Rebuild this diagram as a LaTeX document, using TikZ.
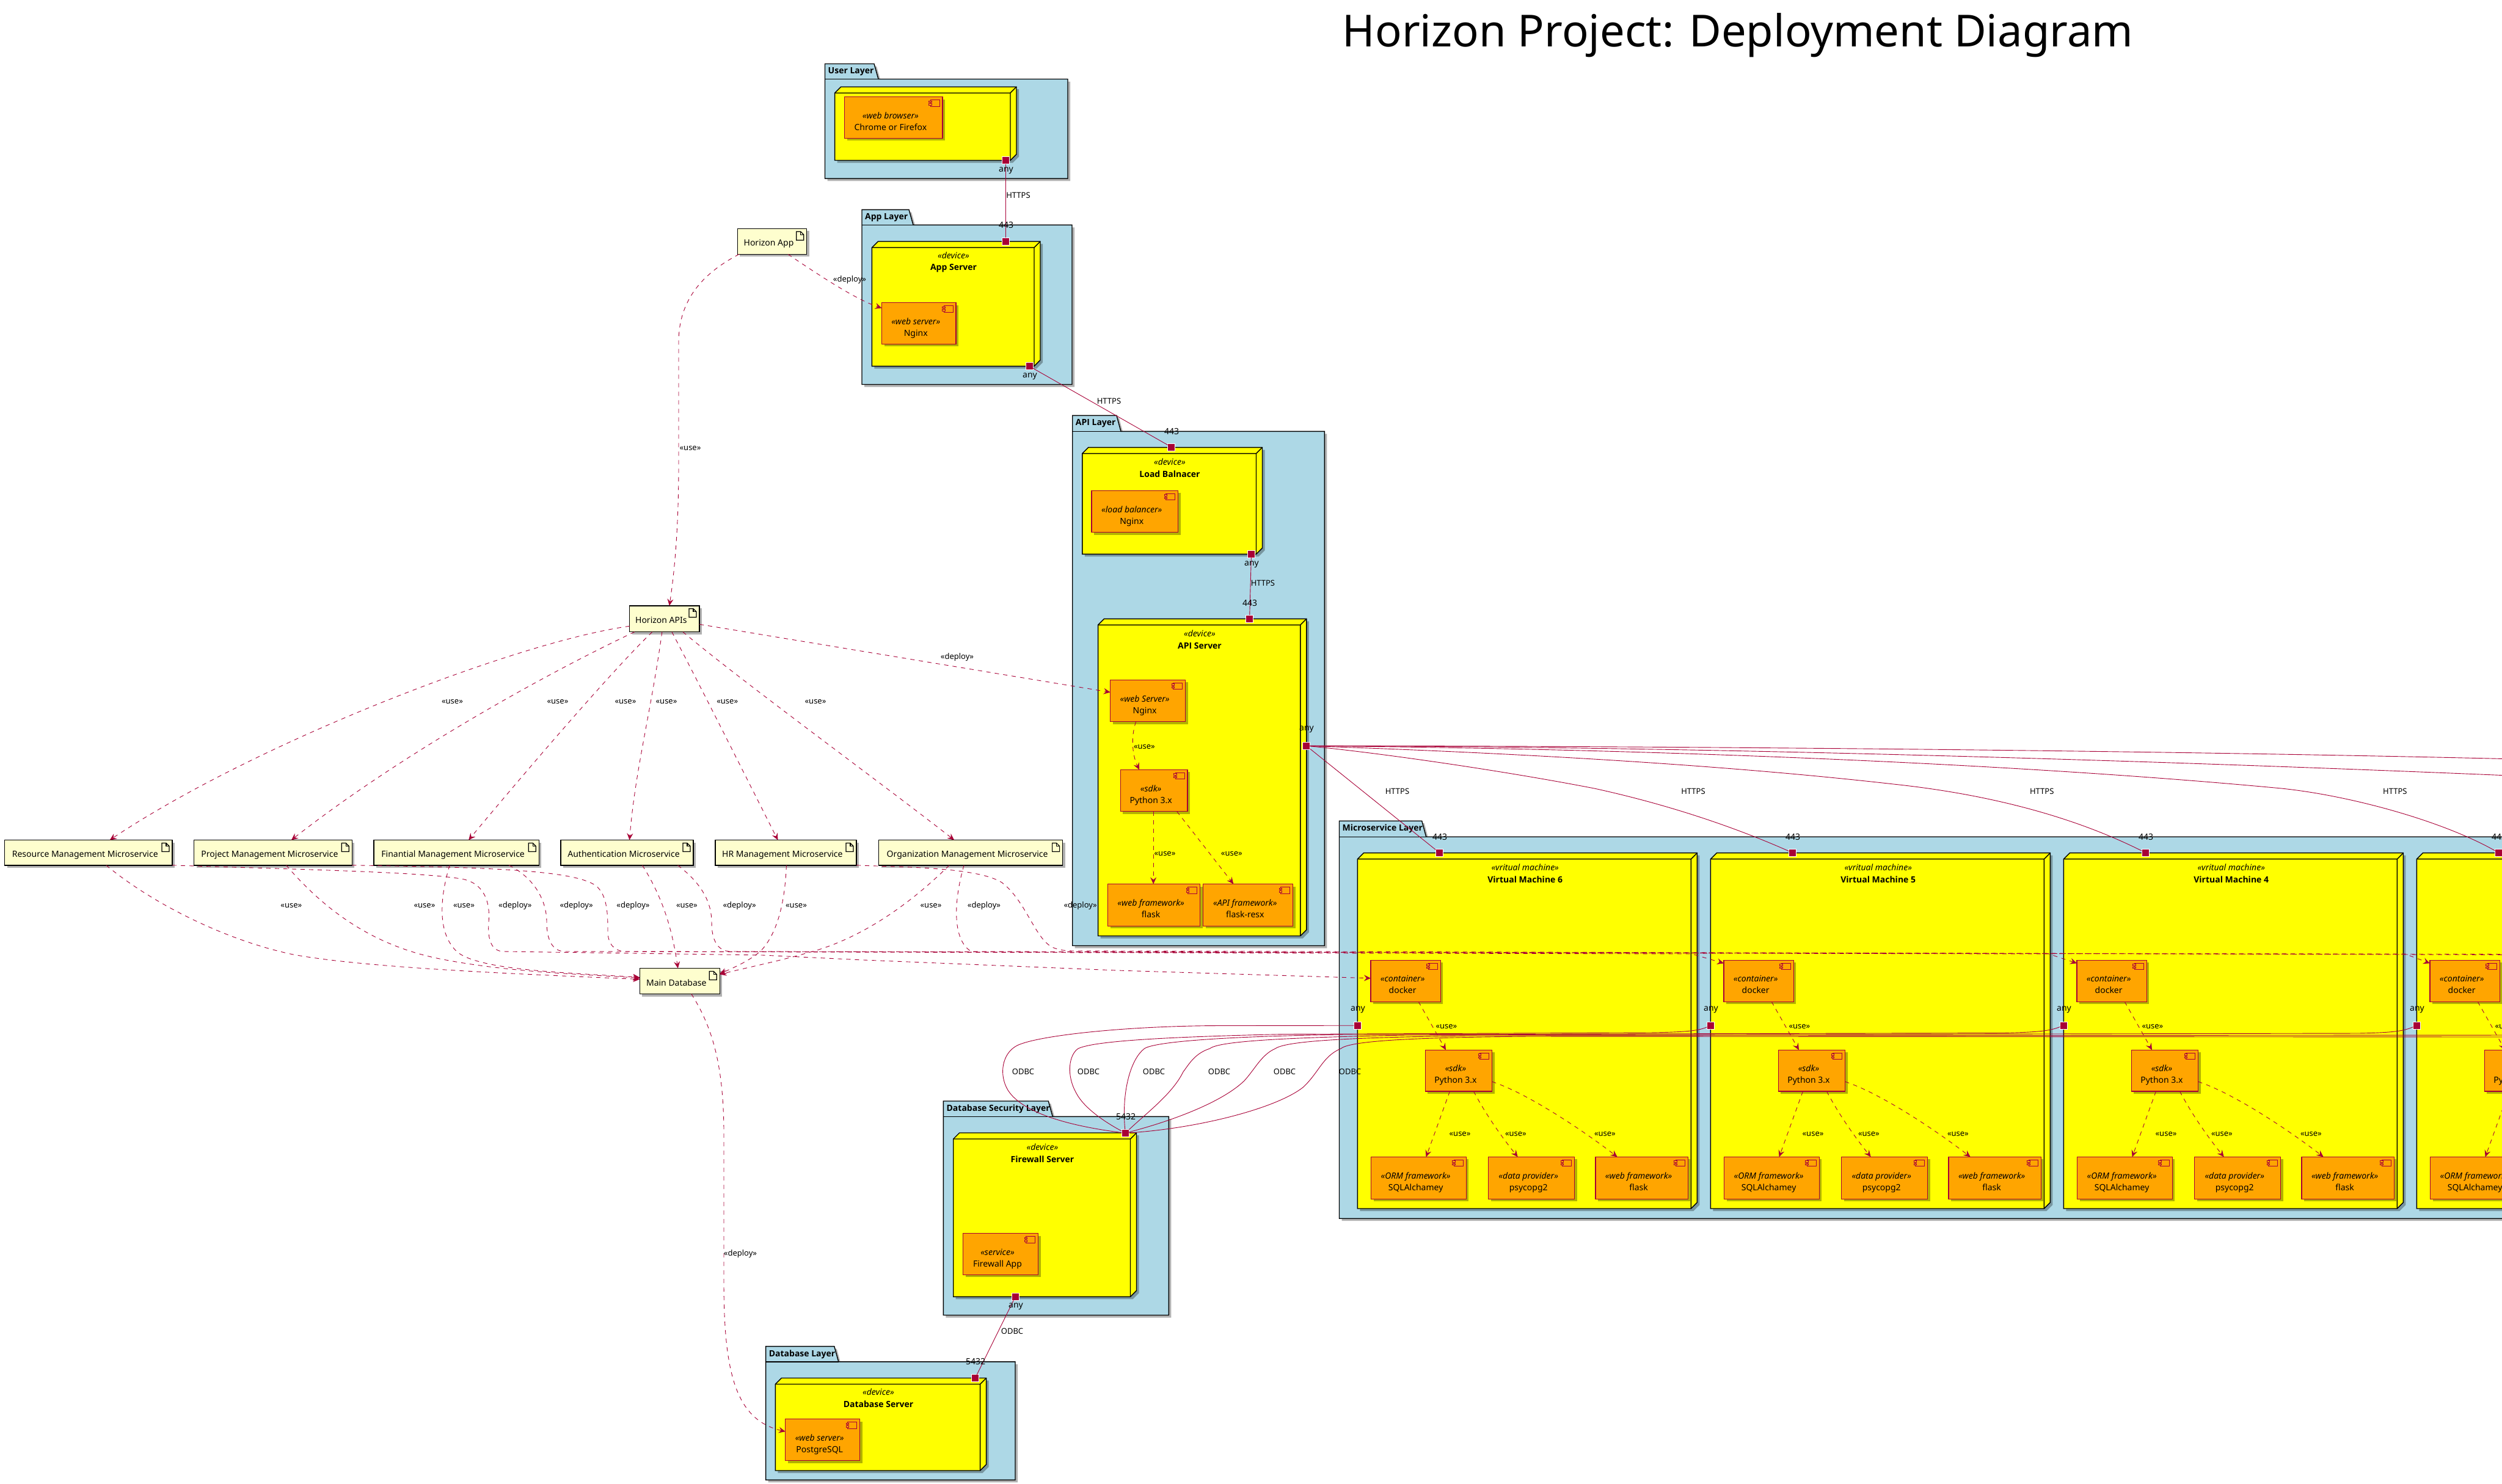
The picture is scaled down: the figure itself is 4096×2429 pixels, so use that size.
\documentclass[tikz,border=0pt]{standalone}
\usepackage{fontspec}
\setmainfont{Noto Sans}
\newfontfamily\strongface{Open Sans}
\usetikzlibrary{calc,shadows,arrows.meta}
\definecolor{wire}{HTML}{A80036}
\definecolor{layerfill}{HTML}{ADD8E6}
\definecolor{notefill}{HTML}{FEFECE}
\definecolor{compfill}{HTML}{FFA500}
\definecolor{devfill}{HTML}{FFFF00}

\tikzset{
softshadow/.style={drop shadow={shadow xshift=4pt,shadow yshift=-4pt,fill=black,opacity=.3}},
layerbox/.style={draw=black,line width=1.4pt,fill=layerfill,softshadow,line join=miter},
devbox/.style={draw=black,line width=1.4pt,fill=devfill,softshadow},
devline/.style={draw=black,line width=1.4pt},
layertitle/.style={anchor=west,inner sep=0pt,font=\fontsize{14}{19}\selectfont\strongface\bfseries},
devtitle/.style={inner sep=0pt,align=center,font=\fontsize{14}{19.5}\selectfont},
compbox/.style={
	draw=wire,line width=1.1pt,fill=compfill,softshadow,
	anchor=north west,inner sep=0pt,outer sep=0pt,font=\fontsize{14}{19}\selectfont,
	path picture={
		\draw[wire,line width=.9pt] ([shift={(-20pt,-5pt)}]path picture bounding box.north east) rectangle ([shift={(-5pt,-15.5pt)}]path picture bounding box.north east);
		\draw[wire,line width=.9pt,fill=compfill] ([shift={(-22.5pt,-6.5pt)}]path picture bounding box.north east) rectangle ([shift={(-18pt,-9pt)}]path picture bounding box.north east);
		\draw[wire,line width=.9pt,fill=compfill] ([shift={(-22.5pt,-11pt)}]path picture bounding box.north east) rectangle ([shift={(-18pt,-13.5pt)}]path picture bounding box.north east);
	}
},
notebox/.style={
	draw=black,line width=1.4pt,fill=notefill,softshadow,
	anchor=north west,inner sep=0pt,outer sep=0pt,text height=15pt,text depth=0pt,font=\fontsize{14}{19}\selectfont,
	path picture={
		\draw[black,line width=1.2pt,line join=miter] ([shift={(-17pt,-5pt)}]path picture bounding box.north east) -- ++(0pt,-14pt) -- ++(12pt,0pt) -- ++(0pt,9pt) -- ++(-5pt,5pt) -- cycle;
		\draw[black,line width=1.2pt] ([shift={(-10pt,-5pt)}]path picture bounding box.north east) -- ++(0pt,-5pt) -- ++(5pt,0pt);
	}
},
portbox/.style={draw=white,line width=.9pt,fill=wire,minimum size=12pt,inner sep=0pt,outer sep=0pt},
portlabel/.style={inner sep=0pt,font=\fontsize{14}{19}\selectfont},
edgelabel/.style={inner sep=0pt,font=\fontsize{13}{17}\selectfont},
linkwire/.style={draw=wire,line width=.9pt},
usewire/.style={draw=wire,line width=.9pt,dash pattern=on 7pt off 7pt,-{Stealth[length=11pt,width=10pt,inset=4pt]}},
}

\newcommand\comptext[2]{\begin{tabular}[c]{@{}c@{}}\rule{0pt}{28pt}\textit{«#1»}\\#2\end{tabular}\kern10pt}
\newcommand\compnode[7]{\node[compbox,minimum width=\the\dimexpr#4pt-#2pt\relax,minimum height=\the\dimexpr#5pt-#3pt\relax] (#1) at (#2,#3) {\comptext{#6}{#7}};}
\newcommand\notenode[6]{\node[notebox,minimum width=\the\dimexpr#4pt-#2pt\relax,minimum height=\the\dimexpr#5pt-#3pt\relax] (#1) at (#2,#3) {#6\kern11pt};}
% x1, tab top, tab right, body top, x2, y2, title
\newcommand\layershape[7]{
	\draw[layerbox] (#1,#4) -- (#1,#2) -- (#3,#2) -- (#3+7,#4) -- (#5,#4) -- (#5,#6) -- (#1,#6) -- cycle;
	\draw[devline] (#1,#4) -- (#3+7,#4);
	\node[layertitle] (#7 title) at (#1+5,#2+13) {#7 Layer};
}
\newcommand\boxshape[4]{
	\draw[devbox] (#1,#2) -- ++(10,-10) -- (#3+10,#2-10) -- (#3+10,#4-10) -- (#3,#4) -- (#1,#4) -- cycle;
	\draw[devline] (#1,#2) -- (#3,#2) -- (#3,#4) (#3,#2) -- ++(10,-10);
}
\newcommand\devtext[5]{\node[devtitle] (#1) at (#2,#3) {\textit{«#4»}\\{\strongface\bfseries #5}};}

\begin{document}
\begin{tikzpicture}[x=1pt,y=-1pt]
\useasboundingbox (0,0) rectangle (4096,2429);
\clip (0,0) rectangle (4096,2429);

\node[anchor=base,inner sep=0pt,font=\fontsize{72.3}{80}\selectfont] (title) at (2845,76.7) {Horizon Project: Deployment Diagram};

\layershape{1350.5}{104.5}{1431}{129.5}{1748}{292.4}{User}
\layershape{1411}{343.3}{1488}{368.3}{1755}{629.5}{App}
\layershape{1755.7}{680.4}{1828}{706.4}{2168.4}{1548.5}{API}
\layershape{2192.5}{1344.2}{2327.7}{1370.2}{4120}{1995.2}{Microservice}
\layershape{1544.4}{1803}{1716.3}{1828.4}{1913.3}{2153.5}{Database Security}
\layershape{1253.6}{2204.6}{1365.8}{2229.8}{1662}{2423.3}{Database}

\boxshape{1366.6}{152.2}{1654}{262.5}
\compnode{browser}{1382.7}{158.5}{1543}{226.3}{web browser}{Chrome or Firefox}

\boxshape{1427.4}{405.4}{1693}{599.6}
\devtext{appdev}{1561}{429.4}{device}{App Server}
\compnode{appngx}{1443.5}{495.5}{1565}{563.4}{web server}{Nginx}

\boxshape{1771.8}{742.6}{2056.5}{907.3}
\devtext{lbdev}{1915}{766.3}{device}{Load Balnacer}
\compnode{lbngx}{1787}{803.4}{1928.5}{871.7}{load balancer}{Nginx}

\boxshape{1797.6}{1023.3}{2128.8}{1532.5}
\devtext{apidev}{1964}{1047.3}{device}{API Server}
\compnode{apingx}{1817.7}{1113.4}{1940.5}{1181.7}{web Server}{Nginx}
\compnode{apisdk}{1834.3}{1260.4}{1944}{1328.7}{sdk}{Python 3.x}
\compnode{apiflask}{1813.7}{1447.5}{1964.6}{1516.4}{web framework}{flask}
\compnode{apiresx}{1969.8}{1447.5}{2116.8}{1516.4}{API framework}{flask-resx}

\foreach \vm/\off in {6/0,5/578,4/1156}
{
	\begin{scope}[xshift=\off pt]
	\boxshape{2222.4}{1406.6}{2768.4}{1979}
	\devtext{vmdev\vm}{2496.7}{1430.3}{vritual machine}{Virtual Machine \vm}
	\compnode{docker\vm}{2244}{1572.4}{2358.3}{1640.2}{container}{docker}
	\compnode{sdk\vm}{2333.4}{1719.3}{2442.5}{1787}{sdk}{Python 3.x}
	\compnode{orm\vm}{2244.8}{1894.4}{2400.4}{1963.2}{ORM framework}{SQLAlchamey}
	\compnode{pg\vm}{2436.7}{1894.4}{2577.7}{1963.2}{data provider}{psycopg2}
	\compnode{fw\vm}{2612}{1894.4}{2763.3}{1963.2}{web framework}{flask}
	\draw[usewire] ([xshift=21pt]docker\vm.south) -- ([xshift=-21pt]sdk\vm.north);
	\draw[usewire] ([xshift=-14.5pt]sdk\vm.south) -- ([xshift=12pt]orm\vm.north);
	\draw[usewire] ([xshift=24.5pt]sdk\vm.south) .. controls (2435,1830) and (2465,1870) .. ([xshift=-22.5pt]pg\vm.north);
	\draw[usewire] ([yshift=-18pt]sdk\vm.east) .. controls (2500,1790) and (2590,1850) .. ([xshift=-40pt]fw\vm.north);
	\node[portbox] (vmin\vm) at (2356.4,1396.3) {};
	\node[portlabel] (vminlb\vm) at (2357,1370) {443};
	\node[portbox] (vmout\vm) at (2222.4,1679.2) {};
	\node[portlabel] (vmoutlb\vm) at (2223,1653.2) {any};
	\node[edgelabel] (vmuse\vm) at (2367.9,1680.8) {«use»};
	\node[edgelabel] (vmorm\vm) at (2390,1857) {«use»};
	\node[edgelabel] (vmpg\vm) at (2481.4,1857) {«use»};
	\node[edgelabel] (vmfw\vm) at (2627.4,1857) {«use»};
	\end{scope}
}
% the last machine runs off the right edge
\begin{scope}[xshift=1734pt]
	\boxshape{2222.4}{1406.6}{2768.4}{1979}
	\compnode{docker3}{2244}{1572.4}{2358.3}{1640.2}{container}{docker}
	\compnode{sdk3}{2333.4}{1719.3}{2442.5}{1787}{sdk}{Python 3.x}
	\compnode{orm3}{2244.8}{1894.4}{2400.4}{1963.2}{ORM framework}{SQLAlchamey}
	\draw[usewire] ([xshift=21pt]docker3.south) -- ([xshift=-21pt]sdk3.north);
	\draw[usewire] ([xshift=-14.5pt]sdk3.south) -- ([xshift=12pt]orm3.north);
	\node[portbox] (vmin3) at (2356.4,1396.3) {};
	\node[portlabel] (vminlb3) at (2357,1370) {443};
	\node[portbox] (vmout3) at (2222.4,1679.2) {};
	\node[portlabel] (vmoutlb3) at (2223,1653.2) {any};
	\node[edgelabel] (vmuse3) at (2367.9,1680.8) {«use»};
\end{scope}

\boxshape{1560.7}{1865}{1850.5}{2123.3}
\devtext{fwdev}{1706.5}{1888}{device}{Firewall Server}
\compnode{fwapp}{1576.5}{2019.5}{1699.5}{2087.4}{service}{Firewall App}

\boxshape{1269.4}{2266.5}{1604.6}{2408}
\devtext{dbdev}{1438}{2289.3}{device}{Database Server}
\compnode{pgsql}{1285.7}{2323.7}{1407.7}{2391.6}{web server}{PostgreSQL}

\notenode{happ}{1207.3}{374.3}{1320.7}{416.3}{Horizon App}
\notenode{hapis}{1030.7}{991.8}{1145}{1034.7}{Horizon APIs}
\notenode{res}{7.5}{1375.5}{282}{1416.8}{Resource Management Microservice}
\notenode{proj}{317.6}{1375.5}{576.3}{1416.8}{Project Management Microservice}
\notenode{fin}{612}{1375.5}{882.3}{1416.8}{Finantial Management Microservice}
\notenode{auth}{918}{1375.5}{1135}{1416.8}{Authentication Microservice}
\notenode{hr}{1170.8}{1375.5}{1402}{1416.8}{HR Management Microservice}
\notenode{org}{1438.6}{1375.5}{1739.6}{1416.8}{Organization Management Microservice}
\notenode{db}{1047.3}{1585.5}{1178.3}{1627.5}{Main Database}

\node[portbox] (userout) at (1646,262.5) {};
\node[portbox] (appin) at (1646,395) {};
\node[portbox] (appout) at (1685,599.6) {};
\node[portbox] (lbin) at (1917.6,732) {};
\node[portbox] (lbout) at (2048.5,907.3) {};
\node[portbox] (apiin) at (2045.6,1013) {};
\node[portbox] (apiout) at (2138.6,1221.3) {};
\node[portbox] (fwin) at (1842.3,1855.3) {};
\node[portbox] (fwout) at (1662.2,2123.3) {};
\node[portbox] (dbin) at (1596.4,2256.7) {};
\coordinate (httpstwo) at (4120,1270.5);
\coordinate (httpsone) at (4120,1243);
\coordinate (odbctwo) at (4120,1695);
\coordinate (odbcone) at (4120,1698);
\coordinate (deploytwo) at (4120,1562.5);
\coordinate (deployone) at (4120,1563.5);

\foreach \from/\to in {userout/appin,appout/lbin,lbout/apiin,fwout/dbin,apiout/vmin6}
{
	\draw[linkwire] (\from) -- (\to);
}
\draw[linkwire] (apiout) .. controls (2250,1232) and (2450,1260) .. (2610,1291) .. controls (2720,1315) and (2830,1350) .. (vmin5);
\draw[linkwire] (apiout) .. controls (2450,1232) and (2800,1250) .. (3100,1284) .. controls (3250,1300) and (3390,1335) .. (vmin4);
\draw[linkwire] (apiout) .. controls (2700,1226) and (3300,1250) .. (3735,1291) .. controls (3850,1303) and (4000,1345) .. (vmin3);
\draw[linkwire] (apiout) .. controls (2700,1222) and (3400,1240) .. (httpstwo);
\draw[linkwire] (apiout) .. controls (2700,1221.5) and (3500,1228) .. (httpsone);

\draw[linkwire] (vmout6) -- (2000,1679.5) .. controls (1850,1679.5) and (1700,1695) .. (1665,1712) .. controls (1640,1725) and (1635,1760) .. (1650,1785) .. controls (1675,1825) and (1760,1845) .. (fwin);
\draw[linkwire] (vmout5) .. controls (2780,1688) and (2760,1690) .. (2700,1691) -- (2100,1693.5) .. controls (1900,1698) and (1790,1705) .. (1765,1717) .. controls (1750,1727) and (1745,1760) .. (1762,1790) .. controls (1775,1815) and (1810,1838) .. (fwin);
\draw[linkwire] (vmout4) .. controls (3355,1688) and (3340,1690) .. (3280,1691.5) -- (2200,1694) .. controls (2000,1697) and (1890,1706) .. (1873.5,1717) .. controls (1850,1735) and (1836,1790) .. (fwin);
\draw[linkwire] (vmout3) .. controls (3935,1688) and (3920,1691) .. (3860,1692) -- (2300,1695) .. controls (2100,1699) and (1995,1705) .. (1980.6,1717) .. controls (1955,1725) and (1945,1745) .. (1937,1755) .. controls (1920,1790) and (1880,1820) .. (fwin);
\draw[linkwire] (odbctwo) -- (2400,1696) .. controls (2200,1699) and (2105,1705) .. (2087.8,1717) .. controls (2065,1727) and (2055,1750) .. (2036.7,1770) .. controls (2000,1805) and (1920,1835) .. (fwin);
\draw[linkwire] (odbcone) -- (2500,1697) .. controls (2300,1699) and (2210,1705) .. (2195,1717) .. controls (2165,1730) and (2160,1755) .. (2133.7,1780) .. controls (2090,1815) and (1960,1848) .. (fwin);

\draw[usewire] ([xshift=-54pt]happ.south) .. controls (1165,440) and (1111,480) .. (1111,560) -- (1111,760) .. controls (1111,860) and (1105,930) .. ([xshift=8pt]hapis.north);
\draw[usewire] ([xshift=26pt]happ.south) .. controls (1340,450) and (1400,490) .. ([yshift=25pt]appngx.west);
\draw[usewire] ([yshift=-12pt]hapis.west) .. controls (850,1050) and (420,1215) .. ([xshift=35pt]res.north);
\draw[usewire] ([xshift=-49pt]hapis.south) .. controls (880,1110) and (650,1240) .. ([xshift=30pt]proj.north);
\draw[usewire] ([xshift=-20pt]hapis.south) .. controls (1010,1090) and (880,1240) .. ([xshift=20pt]fin.north);
\draw[usewire] ([xshift=-4pt]hapis.south) .. controls (1065,1170) and (1040,1260) .. ([xshift=4pt]auth.north);
\draw[usewire] ([xshift=12pt]hapis.south) .. controls (1150,1130) and (1220,1270) .. ([xshift=-13pt]hr.north);
\draw[usewire] ([xshift=30pt]hapis.south) .. controls (1220,1120) and (1440,1280) .. ([xshift=-27pt]org.north);
\draw[usewire] ([yshift=-9pt]hapis.east) -- ([yshift=14pt]apingx.west);

\draw[usewire] ([xshift=29pt]res.south) .. controls (250,1480) and (370,1540) .. (480,1563) .. controls (600,1585) and (850,1595) .. ([yshift=3pt]db.west);
\draw[usewire] ([xshift=21.5pt]proj.south) .. controls (540,1500) and (620,1550) .. (720,1570) .. controls (830,1592) and (950,1595) .. ([yshift=5pt]db.west);
\draw[usewire] ([xshift=-11pt]fin.south) .. controls (720,1470) and (715,1530) .. (750,1560) .. controls (790,1590) and (940,1593) .. ([yshift=6pt]db.west);
\draw[usewire] ([xshift=25pt]auth.south) .. controls (1085,1470) and (1100,1520) .. ([xshift=-3pt]db.north);
\draw[usewire] ([xshift=1pt]hr.south) .. controls (1285,1480) and (1272,1525) .. (1250,1552) .. controls (1235,1570) and (1200,1585) .. ([yshift=12pt]db.east);
\draw[usewire] ([xshift=-35pt]org.south) .. controls (1480,1490) and (1400,1540) .. (1323,1560) .. controls (1270,1575) and (1220,1585) .. ([yshift=11pt]db.east);

\draw[usewire] (res.south east) .. controls (500,1424) and (700,1428) .. (760,1440) .. controls (800,1450) and (802,1490) .. (800,1510) .. controls (798,1540) and (805,1558) .. (825,1558) -- (1248,1564) -- (1414.6,1572) -- (1829,1589) -- ([yshift=4.5pt]docker6.west);
\draw[usewire] ([xshift=86pt]fin.south) .. controls (870,1435) and (895,1470) .. (895,1510) .. controls (895,1540) and (905,1558) .. (925,1558) -- (2769.6,1562) -- ([yshift=29pt]docker5.west);
\draw[usewire] (proj.south east) .. controls (800,1420) and (940,1425) .. (975,1450) .. controls (995,1465) and (995,1500) .. (995,1525) .. controls (995,1545) and (1005,1558) .. (1025,1558) -- (3354,1562) -- ([yshift=29pt]docker4.west);
\draw[usewire] ([xshift=83pt]auth.south) .. controls (1140,1440) and (1165,1470) .. (1165,1510) .. controls (1165,1540) and (1175,1557) .. (1195,1558) -- (3938.6,1562.5) -- ([yshift=29pt]docker3.west);
\draw[usewire,-] ([xshift=-11pt]org.south) .. controls (1560,1480) and (1560,1540) .. (1590,1558) -- (deploytwo);
\draw[usewire,-] (hr.south east) .. controls (1480,1420) and (1600,1420) .. (1640,1445) .. controls (1680,1475) and (1695,1540) .. (1725,1552) .. controls (1735,1556) and (1745,1557) .. (1760,1557) -- (deployone);

\draw[usewire] ([xshift=19pt]db.south) .. controls (1165,1680) and (1184,1740) .. (1185,1850) -- (1185,2100) .. controls (1185,2250) and (1205,2325) .. ([yshift=13.6pt]pgsql.west);

\draw[usewire] ([xshift=-19.5pt]apingx.south) .. controls (1850,1210) and (1855,1240) .. ([xshift=-24pt]apisdk.north);
\draw[usewire] ([xshift=-1pt]apisdk.south) -- ([xshift=-1pt]apiflask.north);
\draw[usewire] ([xshift=37.5pt]apisdk.south) -- ([xshift=-24pt]apiresx.north);

\node[portlabel] (useroutlb) at (1647,279) {any};
\node[portlabel] (appinlb) at (1647,368.7) {443};
\node[portlabel] (appoutlb) at (1686,616.5) {any};
\node[portlabel] (lbinlb) at (1918,706) {443};
\node[portlabel] (lboutlb) at (2049,924) {any};
\node[portlabel] (apiinlb) at (2046,987) {443};
\node[portlabel] (apioutlb) at (2139,1194) {any};
\node[portlabel] (fwinlb) at (1843,1828.4) {5432};
\node[portlabel] (fwoutlb) at (1663,2139.5) {any};
\node[portlabel] (dbinlb) at (1597,2229.3) {5432};

\foreach \x/\y [count=\i] in {740.5/1149,913/1149,1024/1149,1091/1149,1190.7/1149,1335/1149,476.8/1483,695/1483,759.5/1483,1124.4/1483,1303.5/1483,1524/1483,1130/734,1873.4/1223,1907/1398,2016.3/1398}
{
	\node[edgelabel] (uselb\i) at (\x,\y) {«use»};
}
\foreach \x/\y [count=\i] in {1391/457.7,1567/1076,843.3/1483,943.6/1483,1036.5/1483,1210.6/1483,1611/1483,1768.6/1483,1212/2053.5}
{
	\node[edgelabel] (deploylb\i) at (\x,\y) {«deploy»};
}
\foreach \x/\y [count=\i] in {1667/319.6,1815.5/656.7,2067.4/954.4,2287.5/1295.4,2772/1295.4,3342.7/1295.4,3920.8/1295.4}
{
	\node[edgelabel] (httpslb\i) at (\x,\y) {HTTPS};
}
\foreach \x/\y [count=\i] in {1675/1754.7,1782/1754.7,1889/1754.7,1996/1754.7,2103/1754.7,2210/1754.7,1657/2180}
{
	\node[edgelabel] (odbclb\i) at (\x,\y) {ODBC};
}
\end{tikzpicture}
\end{document}
